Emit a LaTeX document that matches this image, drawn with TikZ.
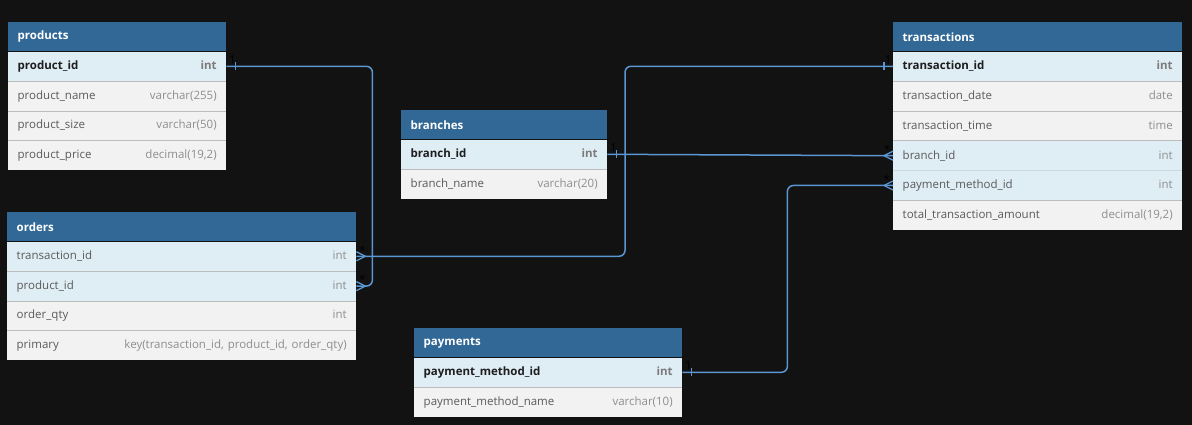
\documentclass[tikz,border=0pt]{standalone}
\usepackage{fontspec}
\setmainfont{Open Sans}
\definecolor{bgc}{HTML}{121212}
\definecolor{hdrblue}{HTML}{316896}
\definecolor{keyrow}{HTML}{DFEDF5}
\definecolor{plainrow}{HTML}{F2F2F2}
\definecolor{sepc}{HTML}{BDBDBD}
\definecolor{sepkey}{HTML}{CBD8E0}
\definecolor{relc}{HTML}{5A96D2}
\definecolor{pknc}{HTML}{1E1E1E}
\definecolor{namec}{HTML}{5A5A5A}
\definecolor{typec}{HTML}{8E8E8E}
\definecolor{pktc}{HTML}{7C7C7C}
\newcommand\pkname[1]{\textcolor{pknc}{\bfseries #1}}
\newcommand\pktype[1]{\textcolor{pktc}{\bfseries #1}}
\newcommand\colname[1]{\textcolor{namec}{#1}}
\newcommand\coltype[1]{\textcolor{typec}{#1}}
\tikzset{
  hdr/.style 2 args={fill=hdrblue, text=white, font=\fontsize{11.5}{13}\selectfont\bfseries,
    anchor=north west, minimum width=#1, text width=#2, minimum height=29,
    inner xsep=9.5, inner ysep=0},
  rowbase/.style 2 args={font=\fontsize{11.5}{13}\selectfont, anchor=north west,
    minimum width=#1, text width=#2, minimum height=29.4, inner xsep=9.5, inner ysep=0},
  krow/.style 2 args={rowbase={#1}{#2}, fill=keyrow},
  nrow/.style 2 args={rowbase={#1}{#2}, fill=plainrow},
  sep/.style={draw=sepc, line width=0.8pt},
  sepk/.style={draw=sepkey, line width=0.8pt},
  rel/.style={draw=relc, line width=1.5pt, rounded corners=6pt},
  relmark/.style={draw=relc, line width=1.3pt},
  card/.style={font=\fontsize{11}{12}\selectfont, text=black, inner sep=0},
}
\begin{document}
\begin{tikzpicture}[x=1pt, y=-1pt]
\fill[bgc] (0,0) rectangle (1192,425);
\useasboundingbox (0,0) rectangle (1192,425);

% ---------- products
\node[hdr={218}{199}] (products) at (8,22) {products};
\node[krow={218}{199}] (products-product_id) at (products.south west) {\pkname{product\_id}\hfill\pktype{int}};
\node[nrow={218}{199}] (products-product_name) at (products-product_id.south west) {\colname{product\_name}\hfill\coltype{varchar(255)}};
\node[nrow={218}{199}] (products-product_size) at (products-product_name.south west) {\colname{product\_size}\hfill\coltype{varchar(50)}};
\node[nrow={218}{199}] (products-product_price) at (products-product_size.south west) {\colname{product\_price}\hfill\coltype{decimal(19,2)}};
\draw[sep] (products-product_id.south west) -- (products-product_id.south east);
\draw[sep] (products-product_name.south west) -- (products-product_name.south east);
\draw[sep] (products-product_size.south west) -- (products-product_size.south east);

% ---------- orders
\node[hdr={349}{330}] (orders) at (7,212) {orders};
\node[krow={349}{330}] (orders-transaction_id) at (orders.south west) {\colname{transaction\_id}\hfill\coltype{int}};
\node[krow={349}{330}] (orders-product_id) at (orders-transaction_id.south west) {\colname{product\_id}\hfill\coltype{int}};
\node[nrow={349}{330}] (orders-order_qty) at (orders-product_id.south west) {\colname{order\_qty}\hfill\coltype{int}};
\node[nrow={349}{330}] (orders-primary) at (orders-order_qty.south west) {\colname{primary}\hfill\coltype{key(transaction\_id, product\_id, order\_qty)}};
\draw[sep] (orders-transaction_id.south west) -- (orders-transaction_id.south east);
\draw[sep] (orders-product_id.south west) -- (orders-product_id.south east);
\draw[sep] (orders-order_qty.south west) -- (orders-order_qty.south east);

% ---------- branches
\node[hdr={206}{187}] (branches) at (401,110) {branches};
\node[krow={206}{187}] (branches-branch_id) at (branches.south west) {\pkname{branch\_id}\hfill\pktype{int}};
\node[nrow={206}{187}] (branches-branch_name) at (branches-branch_id.south west) {\colname{branch\_name}\hfill\coltype{varchar(20)}};
\draw[sep] (branches-branch_id.south west) -- (branches-branch_id.south east);

% ---------- transactions
\node[hdr={289}{270}] (transactions) at (893,22) {transactions};
\node[krow={289}{270}] (transactions-transaction_id) at (transactions.south west) {\pkname{transaction\_id}\hfill\pktype{int}};
\node[nrow={289}{270}] (transactions-transaction_date) at (transactions-transaction_id.south west) {\colname{transaction\_date}\hfill\coltype{date}};
\node[nrow={289}{270}] (transactions-transaction_time) at (transactions-transaction_date.south west) {\colname{transaction\_time}\hfill\coltype{time}};
\node[krow={289}{270}] (transactions-branch_id) at (transactions-transaction_time.south west) {\colname{branch\_id}\hfill\coltype{int}};
\node[krow={289}{270}] (transactions-payment_method_id) at (transactions-branch_id.south west) {\colname{payment\_method\_id}\hfill\coltype{int}};
\node[nrow={289}{270}] (transactions-total) at (transactions-payment_method_id.south west) {\colname{total\_transaction\_amount}\hfill\coltype{decimal(19,2)}};
\draw[sep] (transactions-transaction_id.south west) -- (transactions-transaction_id.south east);
\draw[sep] (transactions-transaction_date.south west) -- (transactions-transaction_date.south east);
\draw[sep] (transactions-transaction_time.south west) -- (transactions-transaction_time.south east);
\draw[sepk] (transactions-branch_id.south west) -- (transactions-branch_id.south east);
\draw[sep] (transactions-payment_method_id.south west) -- (transactions-payment_method_id.south east);

% ---------- payments
\node[hdr={268}{249}] (payments) at (414,328) {payments};
\node[krow={268}{249}] (payments-payment_method_id) at (payments.south west) {\pkname{payment\_method\_id}\hfill\pktype{int}};
\node[nrow={268}{249}] (payments-payment_method_name) at (payments-payment_method_id.south west) {\colname{payment\_method\_name}\hfill\coltype{varchar(10)}};
\draw[sep] (payments-payment_method_id.south west) -- (payments-payment_method_id.south east);

% ---------- relations
% products.product_id 1 -- * orders.product_id
\draw[rel] (products-product_id.east) -- ++(146,0) |- (orders-product_id.east);
% transactions.transaction_id 1 -- * orders.transaction_id
\draw[rel] (transactions-transaction_id.west) -- ++(-268,0) |- (orders-transaction_id.east);
% branches.branch_id 1 -- * transactions.branch_id
\draw[rel] (branches-branch_id.east) -- (transactions-branch_id.west);
% payments.payment_method_id 1 -- * transactions.payment_method_id
\draw[rel] (payments-payment_method_id.east) -- ++(105,0) |- (transactions-payment_method_id.west);

% one-side ticks
\draw[relmark] ([xshift=9pt,yshift=4pt]products-product_id.east) -- ([xshift=9pt,yshift=-4pt]products-product_id.east);
\draw[relmark] ([xshift=-9pt,yshift=4pt]transactions-transaction_id.west) -- ([xshift=-9pt,yshift=-4pt]transactions-transaction_id.west);
\draw[relmark] ([xshift=9pt,yshift=4pt]branches-branch_id.east) -- ([xshift=9pt,yshift=-4pt]branches-branch_id.east);
\draw[relmark] ([xshift=9pt,yshift=4pt]payments-payment_method_id.east) -- ([xshift=9pt,yshift=-4pt]payments-payment_method_id.east);

% many-side crow's feet
\draw[relmark] ([yshift=4.5pt]orders-product_id.east) -- ([xshift=9pt]orders-product_id.east) -- ([yshift=-4.5pt]orders-product_id.east);
\draw[relmark] ([yshift=4.5pt]orders-transaction_id.east) -- ([xshift=9pt]orders-transaction_id.east) -- ([yshift=-4.5pt]orders-transaction_id.east);
\draw[relmark] ([yshift=4.5pt]transactions-branch_id.west) -- ([xshift=-9pt]transactions-branch_id.west) -- ([yshift=-4.5pt]transactions-branch_id.west);
\draw[relmark] ([yshift=4.5pt]transactions-payment_method_id.west) -- ([xshift=-9pt]transactions-payment_method_id.west) -- ([yshift=-4.5pt]transactions-payment_method_id.west);

% cardinality labels
\node[card, anchor=south] (c-prod) at ([xshift=6pt,yshift=3pt]products-product_id.east) {1};
\node[card, anchor=south] (c-tr) at ([xshift=-5pt,yshift=3pt]transactions-transaction_id.west) {1};
\node[card, anchor=south] (c-br) at ([xshift=6pt,yshift=3pt]branches-branch_id.east) {1};
\node[card, anchor=south] (c-pay) at ([xshift=6pt,yshift=3pt]payments-payment_method_id.east) {1};
\node[card, anchor=south] (m-ordp) at ([xshift=6pt,yshift=2pt]orders-product_id.east) {*};
\node[card, anchor=south] (m-ordt) at ([xshift=6pt,yshift=2pt]orders-transaction_id.east) {*};
\node[card, anchor=south] (m-trb) at ([xshift=-6pt,yshift=2pt]transactions-branch_id.west) {*};
\node[card, anchor=south] (m-trp) at ([xshift=-6pt,yshift=2pt]transactions-payment_method_id.west) {*};
\end{tikzpicture}
\end{document}
